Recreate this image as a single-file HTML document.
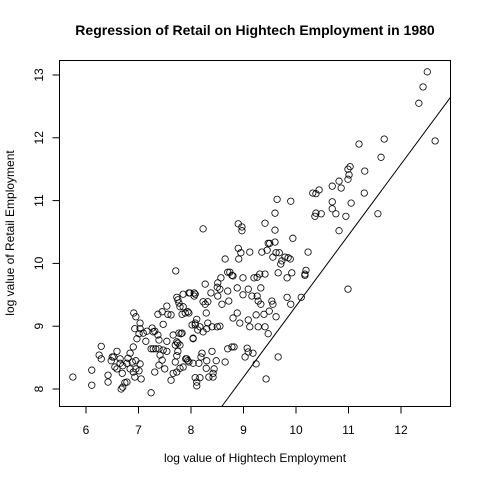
<!DOCTYPE html>
<html><head><meta charset="utf-8"><style>
body{margin:0;background:#fff;}
svg{display:block;font-family:"Liberation Sans",sans-serif;}
</style></head><body>
<svg id="chart" width="480" height="480" xmlns="http://www.w3.org/2000/svg">
<rect width="480" height="480" fill="#fff"/>
<text x="255" y="35" text-anchor="middle" font-size="14" font-weight="bold">Regression of Retail on Hightech Employment in 1980</text>
<text x="255" y="462" text-anchor="middle" font-size="12">log value of Hightech Employment</text>
<text transform="translate(14,233) rotate(-90)" text-anchor="middle" font-size="12">log value of Retail Employment</text>
<rect x="59.5" y="60.5" width="391" height="346" fill="none" stroke="#000"/>
<g id="xaxis"></g>
<g id="yaxis"></g>
<g id="points"></g>
<g id="reg"></g>
</svg>
<script>
const xTicks = [6,7,8,9,10,11,12];
const yTicks = [8,9,10,11,12,13];
const regIntercept = -1.98;
const regSlope = 1.13;
const xs = [5.75,6.11,6.11,6.29,6.25,6.29,6.42,6.42,6.50,6.48,6.53,6.59,6.55,6.65,6.65,6.59,6.70,6.69,6.78,6.80,6.84,6.90,6.88,6.95,6.84,6.90,6.95,7.03,7.01,6.93,7.05,6.74,6.70,6.78,6.67,7.24,6.91,6.95,7.03,6.93,7.03,7.01,6.97,7.09,7.14,7.16,7.26,7.28,7.31,7.37,7.39,7.24,7.28,7.33,7.39,7.47,7.54,7.41,7.45,7.39,7.50,7.31,7.54,7.47,7.37,7.45,7.54,7.56,7.62,7.66,7.70,7.77,7.81,7.73,7.75,7.75,7.73,7.70,7.66,7.62,7.73,7.79,7.85,7.90,7.94,8.04,8.02,8.08,8.11,7.89,7.94,7.85,7.77,7.73,7.75,7.85,7.98,8.08,8.08,8.11,8.11,
8.74,8.80,8.99,9.20,9.26,9.31,9.41,9.66,9.83,9.92,10.17,8.57,8.27,8.51,8.50,8.55,8.70,8.88,9.09,9.33,7.96,8.06,8.06,8.38,8.51,8.99,9.16,9.26,9.83,9.28,9.33,9.54,9.56,9.90,8.72,8.59,8.23,8.27,8.32,7.79,7.96,7.83,8.29,8.88,8.80,9.24,9.39,9.49,9.62,9.09,8.93,9.12,9.28,9.41,9.47,8.08,8.17,8.32,8.30,8.40,8.50,8.55,8.23,8.13,8.04,7.83,7.79,8.70,8.78,8.82,9.07,9.09,9.03,9.18,9.66,8.40,8.21,8.19,7.92,7.96,8.04,8.15,8.30,8.48,8.65,8.29,8.44,8.42,9.24,8.17,8.34,8.42,9.43,
7.71,8.23,8.90,8.97,8.97,9.41,9.64,9.90,9.60,9.60,9.94,9.60,9.47,9.50,8.90,8.95,8.91,8.65,9.12,9.35,9.45,9.62,9.68,9.56,9.73,9.71,9.79,9.85,9.89,8.70,8.78,
12.50,12.42,12.34,12.65,11.68,11.20,11.62,11.03,10.99,11.31,11.01,10.99,10.82,10.69,10.86,10.44,10.32,10.38,11.30,11.05,10.69,10.69,10.38,10.36,10.48,10.76,10.95,11.56,10.82,10.23,10.19,10.17,10.99,10.10];
const ys = [8.19,8.30,8.06,8.68,8.54,8.48,8.22,8.11,8.51,8.45,8.51,8.60,8.35,8.48,8.41,8.32,8.37,8.25,8.41,8.49,8.57,8.67,8.43,8.45,8.32,8.27,8.32,8.40,8.29,8.19,8.16,8.10,8.03,8.11,8.00,7.94,9.21,9.15,9.05,8.96,8.96,8.88,8.80,8.89,8.76,8.92,8.97,8.91,8.92,8.86,8.78,8.64,8.64,8.64,8.64,8.62,8.60,8.54,8.46,8.38,8.32,8.27,8.76,9.03,9.19,9.23,9.32,9.19,9.18,8.86,8.70,8.89,8.88,8.75,8.73,8.60,8.53,8.43,8.25,8.14,8.27,8.33,8.35,8.48,8.45,8.80,9.02,9.05,9.11,9.21,9.23,9.31,9.37,9.46,9.42,9.51,9.53,9.51,8.18,8.11,8.05,
9.86,9.80,9.77,9.77,9.78,9.83,9.83,9.85,9.77,9.85,9.81,9.77,9.67,9.69,9.62,9.59,9.56,9.61,9.59,9.61,9.53,9.53,9.48,9.53,9.48,9.50,9.48,9.48,9.46,9.40,9.35,9.40,9.35,9.35,9.40,9.35,9.39,9.35,9.39,9.31,9.21,9.19,9.21,9.21,9.13,9.18,9.19,9.24,9.15,9.10,9.05,8.99,8.99,8.99,8.88,9.02,8.99,9.05,8.96,8.99,8.99,9.00,8.91,8.94,8.81,8.89,8.70,8.64,8.67,8.67,8.65,8.59,8.51,8.57,8.51,8.60,8.57,8.51,8.48,8.43,8.41,8.41,8.45,8.45,8.43,8.33,8.32,8.25,8.40,8.18,8.19,8.19,8.16,
9.88,10.55,10.63,10.58,10.52,10.64,11.02,10.99,10.80,10.53,10.40,10.34,10.32,10.32,10.24,10.17,10.07,10.07,10.18,10.18,10.21,10.17,10.17,10.10,10.04,9.99,10.10,10.09,10.07,9.86,9.81,
13.05,12.81,12.55,11.95,11.98,11.90,11.69,11.54,11.50,11.47,11.41,11.34,11.31,11.23,11.20,11.17,11.12,11.11,11.12,10.96,10.98,10.87,10.80,10.75,10.79,10.79,10.75,10.79,10.52,10.18,9.89,9.83,9.59,9.46];

const NS = "http://www.w3.org/2000/svg";
const L=59.5,R=450.5,T=60.5,B=406.5;
function sx(v){return 86 + (v-6)*52.5;}
function sy(v){return 389 - (v-8)*62.8;}
function mk(tag, attrs, parent){const e=document.createElementNS(NS,tag);for(const k in attrs)e.setAttribute(k,attrs[k]);parent.appendChild(e);return e;}

const xa=document.getElementById('xaxis');
mk('line',{x1:sx(xTicks[0]),x2:sx(xTicks[xTicks.length-1]),y1:B,y2:B,stroke:'#000'},xa);
xTicks.forEach(t=>{
  const ln=mk('line',{x1:sx(t),x2:sx(t),y1:B,y2:B+7,stroke:'#000'},xa);
  
  
  const tx=mk('text',{x:sx(t),y:434,'text-anchor':'middle','font-size':12},xa);
  tx.textContent=t;
  
  
});
const ya=document.getElementById('yaxis');
mk('line',{x1:L,x2:L,y1:sy(yTicks[0]),y2:sy(yTicks[yTicks.length-1]),stroke:'#000'},ya);
yTicks.forEach(t=>{
  const ln=mk('line',{x1:L-7,x2:L,y1:sy(t),y2:sy(t),stroke:'#000'},ya);
  
  
  const tx=mk('text',{transform:'translate(43,'+sy(t)+') rotate(-90)','text-anchor':'middle','font-size':12},ya);
  tx.textContent=t;
  
  
});
const pg=document.getElementById('points');
for(let i=0;i<xs.length;i++){
  const c=mk('circle',{cx:sx(xs[i]),cy:sy(ys[i]),r:3.2,fill:'none',stroke:'#000','stroke-width':0.8},pg);
  
  
}
// regression line clipped to plot box
const rg=document.getElementById('reg');
const xmin=6+(L-86)/52.5, xmax=6+(R-86)/52.5;
const ymin=8-(B-389)/62.8;
let x0=Math.max(xmin,(ymin-regIntercept)/regSlope);
let x1=xmax;
const rl=mk('line',{x1:sx(x0),y1:sy(regIntercept+regSlope*x0),x2:sx(x1),y2:sy(regIntercept+regSlope*x1),stroke:'#000','stroke-width':1},rg);


</script>
</body></html>
